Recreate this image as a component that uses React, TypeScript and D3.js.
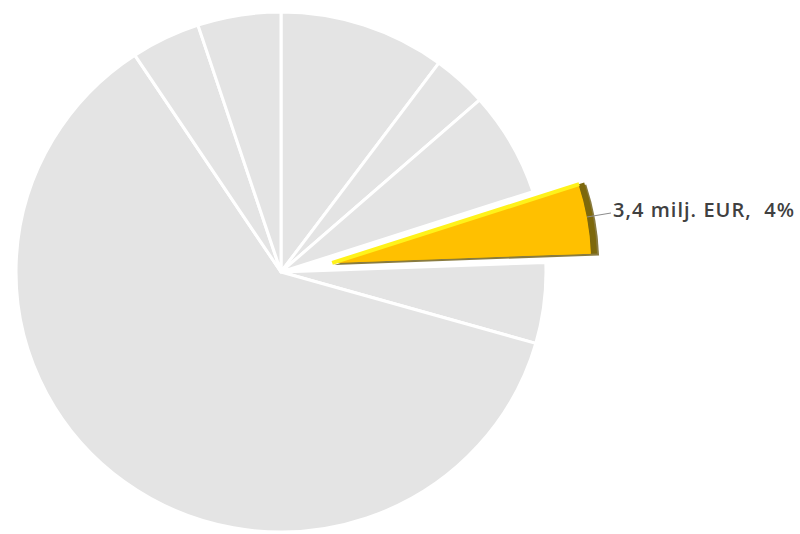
import React from "react";
import * as d3 from "d3";

const categories = ["A", "B", "C", "D", "E", "F", "G", "H"];
const values = [7.8, 2.57, 5.0, 3.4, 3.85, 47.1, 3.25, 3.9];
const highlightIndex = 3;
const highlightLabel = "3,4 milj. EUR,  4%";

const W = 800;
const H = 534;
const cx = 281;
const cy = 272;
const rx = 265;
const ry = 260;
const explode = 52;

export default function App() {
  const pie = d3.pie<number>().sort(null).value((d) => d);
  const arcs = pie(values);
  const arc = d3.arc<d3.PieArcDatum<number>>().innerRadius(0).outerRadius(ry);
  const sx = rx / ry;
  const hl = arcs[highlightIndex];
  const mid = (hl.startAngle + hl.endAngle) / 2;
  const ox = (Math.sin(mid) * explode) / sx;
  const oy = -Math.cos(mid) * explode;
  const inner = d3.arc<d3.PieArcDatum<number>>().innerRadius(6).outerRadius(ry - 6);
  const ux = Math.sin(hl.startAngle) * ry;
  const uy = -Math.cos(hl.startAngle) * ry;
  return (
    <svg width={W} height={H} style={{ position: "absolute", left: 0, top: 0, background: "#fff" }}>
      <defs>
        <linearGradient id="gold" x1="0" y1="0" x2="0" y2="1">
          <stop offset="0" stopColor="#FFD21A" />
          <stop offset="1" stopColor="#F5BA00" />
        </linearGradient>
      </defs>
      <g transform={`translate(${cx},${cy}) scale(${sx},1)`}>
        {arcs.map((a, i) =>
          i === highlightIndex ? null : (
            <path key={categories[i]} d={arc(a) || ""} fill="#E4E4E4" stroke="#fff" strokeWidth={3} strokeLinejoin="round" />
          )
        )}
        <g transform={`translate(${ox},${oy})`}>
          <path d={arc(hl) || ""} transform="translate(2,2)" fill="#6b5a10" opacity={0.8} />
          <path d={arc(hl) || ""} fill="#7d680c" />
          <path d={arc(hl) || ""} fill="url(#gold)" transform="scale(0.975)" />
          <path d={inner(hl) || ""} fill="#FFC000" />
          <line x1={0} y1={0} x2={ux * 0.98} y2={uy * 0.98} stroke="#FFF21A" strokeWidth={4} />
        </g>
      </g>
      <line x1={587} y1={217} x2={611} y2={213} stroke="#8c8c8c" strokeWidth={1} />
      <text
        x={613}
        y={217}
        fontFamily="'Open Sans', sans-serif"
        fontSize={20}
        fontWeight={600}
        fill="#404040"
        style={{ whiteSpace: "pre" }}
        textLength={181}
        lengthAdjust="spacing"
      >
        {highlightLabel}
      </text>
    </svg>
  );
}
